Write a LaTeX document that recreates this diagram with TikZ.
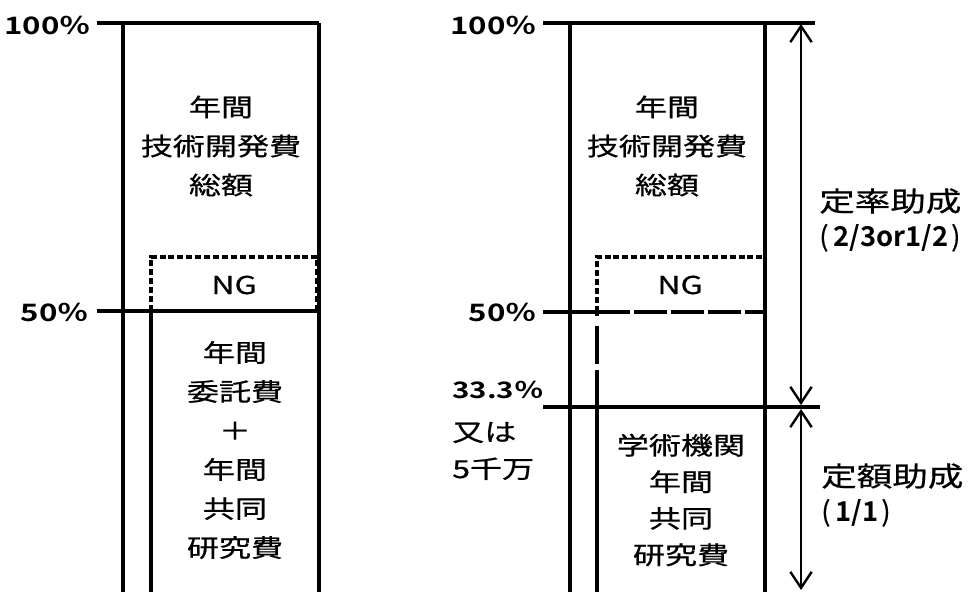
\documentclass[tikz,border=0pt]{standalone}
\usepackage{fontspec}
\usetikzlibrary{arrows.meta}
\newfontfamily\jp[FakeStretch=1.3,FakeBold=0.6]{Noto Sans CJK JP}
\newfontfamily\jpb[FakeStretch=1.3]{Noto Sans CJK JP Bold}
\newfontfamily\jpbn{Noto Sans CJK JP Bold}
\newfontfamily\jpn[FakeBold=0.6]{Noto Sans CJK JP}
\begin{document}
\begin{tikzpicture}[x=0.75pt,y=-0.75pt,
  frame/.style={line width=2.4pt},
  ngdash/.style={line width=2.3pt, dash pattern=on 4.5pt off 2.2pt},
  longdash/.style={line width=2.4pt, dash pattern=on 24.75pt off 3pt},
  dim/.style={line width=1.8pt, {Straight Barb[length=12pt,width=16pt,line width=1.8pt]}-{Straight Barb[length=12pt,width=16pt,line width=1.8pt]}},
  pct/.style={inner sep=0pt, font=\jpb\fontsize{18}{20}\selectfont},
  boxtext/.style={inner sep=0pt, align=center, font=\jp\fontsize{18.5}{29.25}\selectfont},
  sidetext/.style={inner sep=0pt, align=left, anchor=west, font=\jp\fontsize{20.5}{26.25}\selectfont}
]
\useasboundingbox (0,0) rectangle (974,592);
\fill[white] (0,0) rectangle (974,592);

% ---------- left diagram ----------
\coordinate (lt0) at (97,23);
\coordinate (ltl) at (123,23);
\coordinate (ltr) at (319,23);
\coordinate (lbl) at (123,592);
\coordinate (lbr) at (319,592);
\coordinate (lm0) at (97,311);
\coordinate (lmi) at (151,311);
\coordinate (lmr) at (319,311);
\coordinate (lbi) at (151,592);
\coordinate (lngtl) at (151,257);
\coordinate (lngtr) at (317,257);
\coordinate (lngbr) at (317,311);

\draw[frame] (lt0) -- (ltr);
\draw[frame] (ltl) -- (lbl);
\draw[frame] (ltr) -- (lbr);
\draw[frame] (lm0) -- (lmr);
\draw[frame] (lmi) -- (lbi);
\draw[ngdash] (lmi) -- (lngtl) -- (lngtr) -- (lngbr);

\node[pct, anchor=east] (l100) at (91,25) {100％};
\node[pct, anchor=east] (l50) at (89,312) {50％};
\node[boxtext] (ltop) at (221,146) {年間\\技術開発費\\総額};
\node[boxtext] (lng) at (234,285) {NG};
\node[boxtext] (lbot) at (235,450) {年間\\委託費\\＋\\年間\\共同\\研究費};

% ---------- right diagram ----------
\coordinate (rt0) at (543,23);
\coordinate (rtl) at (570,23);
\coordinate (rtr) at (765,23);
\coordinate (rtend) at (815,23);
\coordinate (rbl) at (570,592);
\coordinate (rbr) at (765,592);
\coordinate (rm0) at (543,312);
\coordinate (rmi) at (597,312);
\coordinate (rmr) at (765,312);
\coordinate (rngtl) at (597,257);
\coordinate (rngtr) at (765,257);
\coordinate (r33a) at (543,407);
\coordinate (r33end) at (820,407);
\coordinate (rbi) at (597,592);
\coordinate (v1) at (597,316);
\coordinate (v2) at (597,326);
\coordinate (v3) at (597,364);
\coordinate (v4) at (597,370);
\coordinate (atop) at (801,24);
\coordinate (amid1) at (801,405);
\coordinate (amid2) at (801,409);
\coordinate (abot) at (801,590);

\draw[frame] (rt0) -- (rtend);
\draw[frame] (rtl) -- (rbl);
\draw[frame] (rtr) -- (rbr);
\draw[frame] (rm0) -- (rmi);
\draw[longdash] (rmi) -- (rmr);
\draw[ngdash] (rmi) -- (rngtl) -- (rngtr);
\draw[frame] (rmi) -- (v1);
\draw[frame] (v2) -- (v3);
\draw[frame] (v4) -- (rbi);
\draw[frame] (r33a) -- (r33end);
\draw[dim] (atop) -- (amid1);
\draw[dim] (amid2) -- (abot);

\node[pct, anchor=east] (r100) at (537,25) {100％};
\node[pct, anchor=east] (r50) at (537,312) {50％};
\node[pct, anchor=west, font=\jpb\fontsize{17}{20}\selectfont] (r33) at (452,390) {33.3％};
\node[inner sep=0pt, align=left, anchor=west, font=\jp\fontsize{18.5}{27.75}\selectfont] (r5) at (452,451) {又は\\5千万};
\node[boxtext] (rtop) at (667,146) {年間\\技術開発費\\総額};
\node[boxtext] (rng) at (680,285) {NG};
\node[boxtext, font=\jp\fontsize{18.5}{27.4}\selectfont] (rbot) at (681,500) {学術機関\\年間\\共同\\研究費};

\node[sidetext] (rate) at (819,220) {定率助成\\{\jpn (}\hspace{4pt}{\jpbn 2/3or1/2}\hspace{2pt}{\jpn )}};
\node[sidetext] (fixed) at (821,495) {定額助成\\{\jpn (}\hspace{4pt}{\jpbn 1/1}\hspace{2pt}{\jpn )}};
\end{tikzpicture}
\end{document}
